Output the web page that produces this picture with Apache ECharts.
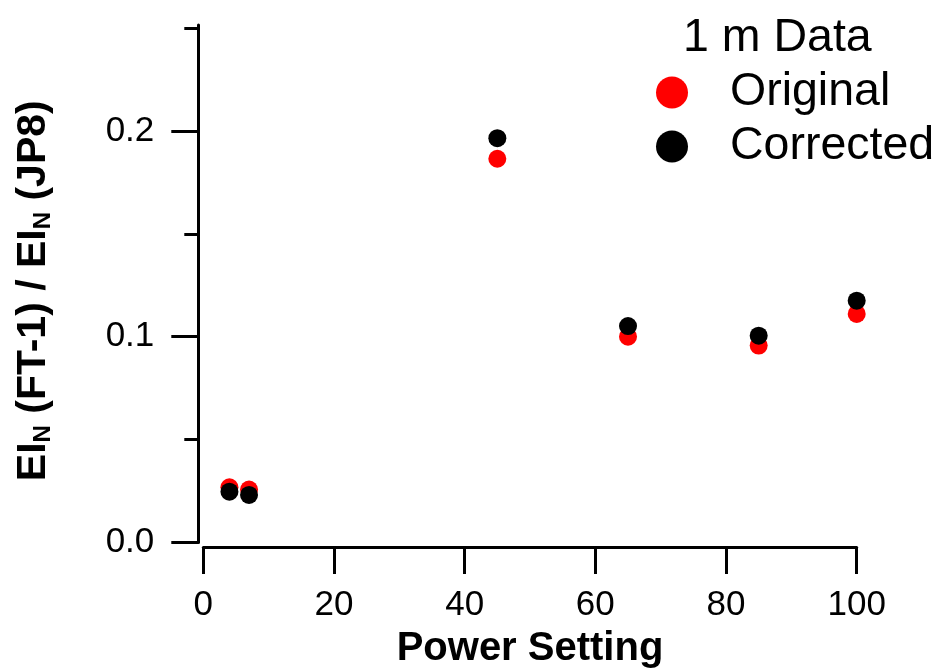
<!DOCTYPE html>
<html>
<head>
<meta charset="utf-8">
<script src="https://cdn.jsdelivr.net/npm/echarts@6/dist/echarts.min.js"></script>
<style>
  html, body { margin: 0; padding: 0; background: #fff; }
  #chart { width: 941px; height: 670px; }
</style>
</head>
<body>
<div id="chart"></div>
<script>
// ---- Data ----
const powerSettings = [4, 7, 45, 65, 85, 100];
const originalValues = [0.0268, 0.0257, 0.1865, 0.1000, 0.0957, 0.1111];
const correctedValues = [0.0247, 0.0231, 0.1965, 0.1052, 0.1005, 0.1175];
const seriesNames = ['Original', 'Corrected'];
const legendTitle = '1 m Data';
const xTickValues = [0, 20, 40, 60, 80, 100];
const yMajorTickValues = [0, 0.1, 0.2];
const yMinorTickValues = [0.05, 0.15, 0.25];

const FONT = '"Liberation Sans", Arial, Helvetica, sans-serif';
const chart = echarts.init(document.getElementById('chart'), null, { renderer: 'canvas' });

const toPairs = (xs, ys) => xs.map((x, i) => [x, ys[i]]);

const yCommon = {
  type: 'value',
  position: 'left',
  min: 0,
  max: 0.2515,
  offset: 5,
  splitLine: { show: false }
};

chart.setOption({
  backgroundColor: '#fff',
  animation: false,
  textStyle: { fontFamily: FONT },
  title: {
    text: legendTitle,
    left: 678,
    top: 10,
    textStyle: { fontFamily: FONT, fontSize: 46.5, fontWeight: 'normal', color: '#000', lineHeight: 46 }
  },
  legend: {
    data: seriesNames,
    orient: 'vertical',
    left: 651,
    top: 64,
    icon: 'circle',
    itemWidth: 32,
    itemHeight: 32,
    itemGap: 7,
    textStyle: { fontFamily: FONT, fontSize: 46.5, color: '#000', lineHeight: 46, padding: [0, 0, 0, 37] }
  },
  grid: { left: 203.3, right: 84.3, top: 25, bottom: 127.5, containLabel: false, outerBoundsMode: 'none' },
  xAxis: {
    type: 'value',
    min: 0,
    max: 100,
    offset: 4.5,
    name: 'Power Setting',
    nameLocation: 'middle',
    nameGap: 82,
    nameTextStyle: { fontFamily: FONT, fontSize: 40, fontWeight: 'bold', color: '#000' },
    splitLine: { show: false },
    axisLine: { show: true, onZero: false, lineStyle: { color: '#000', width: 3 } },
    axisTick: { show: true, inside: false, length: 27, lineStyle: { color: '#000', width: 3 }, customValues: xTickValues },
    axisLabel: { show: true, margin: 41, fontFamily: FONT, fontSize: 35, color: '#000', customValues: xTickValues }
  },
  yAxis: [
    Object.assign({}, yCommon, {
      name: '{b|EI}{s|N}{b| (FT-1) / EI}{s|N}{b| (JP8)}',
      nameLocation: 'middle',
      nameGap: 143,
      nameRotate: 90,
      nameTextStyle: {
        color: '#000',
        padding: [0, 14, 0, 0],
        rich: {
          b: { fontFamily: FONT, fontSize: 41, fontWeight: 'bold', color: '#000', lineHeight: 44 },
          s: { fontFamily: FONT, fontSize: 24, fontWeight: 'bold', color: '#000', lineHeight: 24, verticalAlign: 'bottom' }
        }
      },
      axisLine: { show: true, onZero: false, lineStyle: { color: '#000', width: 3 } },
      axisTick: { show: true, inside: false, length: 27, lineStyle: { color: '#000', width: 3 }, customValues: yMajorTickValues },
      axisLabel: {
        show: true, margin: 44, fontFamily: FONT, fontSize: 35, color: '#000',
        customValues: yMajorTickValues,
        formatter: v => v.toFixed(1)
      }
    }),
    Object.assign({}, yCommon, {
      axisLine: { show: false, onZero: false },
      axisTick: { show: true, inside: false, length: 14, lineStyle: { color: '#000', width: 3 }, customValues: yMinorTickValues },
      axisLabel: { show: false }
    })
  ],
  series: [
    {
      name: seriesNames[0],
      type: 'scatter',
      yAxisIndex: 0,
      symbol: 'circle',
      symbolSize: 18,
      itemStyle: { color: '#ff0000', opacity: 1 },
      data: toPairs(powerSettings, originalValues)
    },
    {
      name: seriesNames[1],
      type: 'scatter',
      yAxisIndex: 0,
      symbol: 'circle',
      symbolSize: 18,
      itemStyle: { color: '#000000', opacity: 1 },
      data: toPairs(powerSettings, correctedValues)
    }
  ]
});
</script>
</body>
</html>
